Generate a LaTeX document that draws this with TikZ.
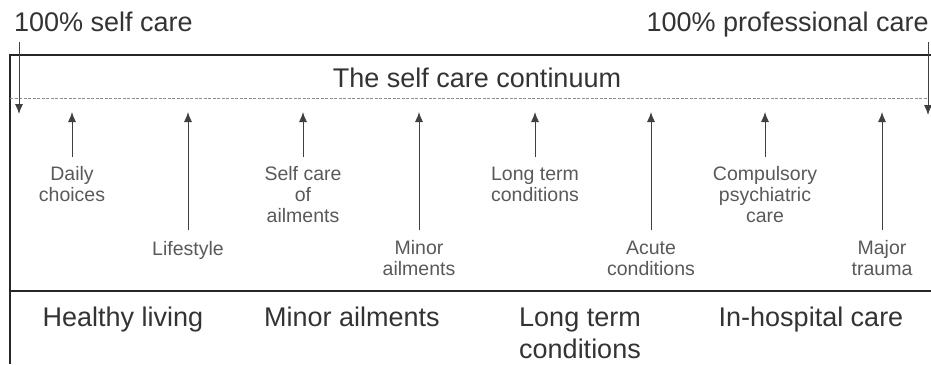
\documentclass[tikz,border=0pt]{standalone}
\usepackage{fontspec}
\setmainfont{Liberation Sans}
\usetikzlibrary{arrows.meta}
\begin{document}
\begin{tikzpicture}[x=1pt,y=-1pt,
  big/.style={font=\fontsize{27}{32}\selectfont, text=black!80, inner sep=0pt, anchor=base, align=center},
  small/.style={font=\fontsize{19.5}{21}\selectfont, text=black!65, inner sep=0pt, anchor=base, align=center},
  frame/.style={draw=black!85, line width=1.2pt},
  divider/.style={draw=black!45, line width=0.8pt, dashed, dash pattern=on 3pt off 1.5pt},
  pointer/.style={draw=black!75, line width=0.9pt, -{Latex[length=10pt,width=8pt]}},
]
\useasboundingbox (0,0) rectangle (931,364);

% outer frame, divider lines
\coordinate (tr) at (931,55);
\coordinate (tl) at (10,55);
\coordinate (bl) at (10,364);
\coordinate (ml) at (10,291);
\coordinate (mr) at (931,291);
\coordinate (dl) at (10,98);
\coordinate (dr) at (928,98);
\draw[frame] (tr) -- (tl) -- (bl);
\draw[frame] (ml) -- (mr);
\draw[divider] (dl) -- (dr);

% end labels
\node[big, anchor=base west] (selfcare) at (14,31) {100\% self care};
\node[big, anchor=base east] (profcare) at (929,31) {100\% professional care};
\node[big] (title) at (477,87) {The self care continuum};

% end pointers
\coordinate (ls) at (19,42);
\coordinate (le) at (19,114);
\coordinate (rs) at (928,42);
\coordinate (re) at (928,115);
\draw[pointer] (ls) -- (le);
\draw[pointer] (rs) -- (re);

% upper row of examples (positioned by the baseline of the last line)
\node[small] (daily) at (72,201) {Daily\\choices};
\node[small] (selfail) at (303,222) {Self care\\of\\ailments};
\node[small] (ltc) at (535,201) {Long term\\conditions};
\node[small] (psych) at (765,222) {Compulsory\\psychiatric\\care};
% lower row of examples
\node[small] (life) at (188,255) {Lifestyle};
\node[small] (minor) at (419,275) {Minor\\ailments};
\node[small] (acute) at (651,275) {Acute\\conditions};
\node[small] (trauma) at (882,275) {Major\\trauma};

% pointers up to the continuum
\foreach \n/\x/\y in {a/72/157, b/188/230, c/303/157, d/419/230, e/535/157, f/651/230, g/765/157, h/882/230}{
  \coordinate (\n0) at (\x,\y);
  \coordinate (\n1) at (\x,112);
  \draw[pointer] (\n0) -- (\n1);
}

% categories
\node[big] (healthy) at (123,326) {Healthy living};
\node[big] (minorcat) at (352,326) {Minor ailments};
\node[big] (longcat) at (580,358) {Long term\\conditions};
\node[big] (hosp) at (811,326) {In-hospital care};
\end{tikzpicture}
\end{document}
